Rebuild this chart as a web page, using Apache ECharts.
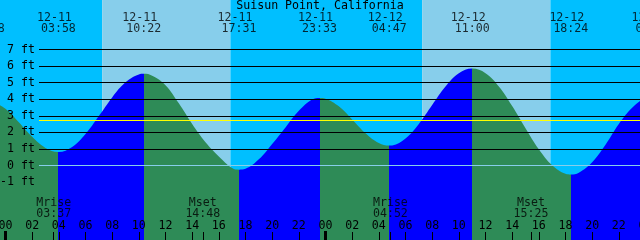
<!DOCTYPE html>
<html><head><meta charset="utf-8">
<script src="https://cdn.jsdelivr.net/npm/echarts@6/dist/echarts.min.js"></script>
<style>html,body{margin:0;padding:0;background:#fff}#c{width:640px;height:240px}</style>
</head><body><div id="c"></div>
<script>
// ---------- data ----------
const chartTitle = 'Suisun Point, California';
// high / low tide events
const extDates = ['12-10','12-11','12-11','12-11','12-11','12-12','12-12','12-12','12-13'];
const extTimes = ['22:38','03:58','10:22','17:31','23:33','04:47','11:00','18:24','00:34'];
const extFeet  = [3.9, 0.82, 5.53, -0.25, 4.08, 1.2, 5.85, -0.54, 4.2];
// tide height samples (hours from 12-11 00:00, feet)
const sampleHours = [-2,-1,0,1,2,3,5,6,7,8,9,10,11,12,13,14,15,16,17,18,19,20,21,22,23,24,25,26,27,28,29,30,31,32,33,34,36,37,38,39,40,41,42,43,44,45,46,47,48,49];
const sampleFeet  = [3.85,3.85,3.42,2.61,1.73,1.06,1.12,1.90,2.98,4.11,5.02,5.49,5.42,4.85,3.75,2.5,1.4,0.55,-0.15,-0.2,0.37,1.30,2.30,3.30,3.98,4.03,3.57,2.78,1.95,1.36,1.21,1.63,2.51,3.65,4.76,5.56,5.57,4.77,3.59,2.25,0.98,0.01,-0.50,-0.43,0.20,1.25,2.50,3.48,4.10,4.18];
// moon events
const moonNames = ['Mrise','Mset','Mrise','Mset'];
const moonDates = ['12-11','12-11','12-12','12-12'];
const moonTimes = ['03:37','14:48','04:52','15:25'];
// sun
const sunriseDates = ['12-11','12-12'];
const sunriseTimes = ['07:15','07:15'];
const sunsetDates  = ['12-11','12-12'];
const sunsetTimes  = ['16:52','16:52'];
// y tick labels and mark level
const yTickFeet = [-1,0,1,2,3,4,5,6,7];
const gridFeet = [1,2,3,4,5,6,7];
const markLevel = 2.72;

// ---------- layout ----------
const FT_PX = 116/7, ZERO_Y = 165.5, HR_PX = 40/3, ZERO_X = 5.5;
const yMin = -5, yMax = 10, xMin = -2, xMax = 48;
const W = 640, H = 240;
const FONT = 'DejaVu Sans Mono';
const FS = 11.6;
const yv = px => (ZERO_Y - px) / FT_PX;
const xv = px => (px - ZERO_X) / HR_PX;
const hourOf = (d, t) => (parseInt(d.split('-')[1], 10) - 11) * 24 + parseInt(t.slice(0,2),10) + parseInt(t.slice(3),10)/60;
const pad2 = n => (n < 10 ? '0' : '') + n;

const extHours = extDates.map((d,i) => hourOf(d, extTimes[i]));
const moonHours = moonDates.map((d,i) => hourOf(d, moonTimes[i]));
const riseH = sunriseDates.map((d,i) => hourOf(d, sunriseTimes[i]));
const setH = sunsetDates.map((d,i) => hourOf(d, sunsetTimes[i]));

const tidePts = sampleHours.map((h,i) => [h, sampleFeet[i]])
  .concat(extHours.map((h,i) => [h, extFeet[i]]))
  .sort((a,b) => a[0]-b[0]);

const NIGHT = '#00BFFF', DAY = '#87CEEB', RISE = '#0000FF', FALL = '#2E8B57';
const bands = [];
const edges = [xMin - 5];
for (let i = 0; i < riseH.length; i++) { edges.push(riseH[i]); edges.push(setH[i]); }
edges.push(xMax + 5);
for (let i = 0; i < edges.length - 1; i++) {
  bands.push([{xAxis: edges[i], itemStyle: {color: i % 2 === 0 ? NIGHT : DAY, opacity: 1}}, {xAxis: edges[i+1]}]);
}

// rising / falling pieces between successive extremes
const bnd = [-100].concat(extHours).concat([100]);
const pieces = [];
for (let i = 0; i < bnd.length - 1; i++) {
  let rising;
  if (i === 0) rising = extFeet[0] > extFeet[1];
  else if (i === bnd.length - 2) rising = extFeet[extFeet.length-1] < extFeet[extFeet.length-2];
  else rising = extFeet[i] > extFeet[i-1];
  pieces.push({min: bnd[i], max: bnd[i+1], color: rising ? RISE : FALL});
}

const blackLines = gridFeet.map(v => [{coord: [xv(39), v]}, {coord: [xMax, v]}]);
const topLines = [
  [{coord: [xv(39), 0], lineStyle: {color: '#87CEEB'}}, {coord: [xMax, 0]}],
  [{coord: [xv(39), markLevel], lineStyle: {color: '#FFFF00'}}, {coord: [xMax, markLevel]}]
];
const dayTicks = [0, 24, 48].map(h => [{coord: [h, yv(231)], lineStyle: {width: 3}}, {coord: [h, yv(240)]}]);
const moonTicks = moonHours.map(h => [{coord: [h, yv(232)], lineStyle: {width: 1}}, {coord: [h, yv(240)]}]);

const textRow = (hours, texts, py, dx) => ({
  type: 'scatter', z: 6, clip: false, silent: true, symbolSize: 0,
  data: hours.map(h => [h, yv(py)]),
  label: {show: true, position: 'inside', offset: [dx, 0], color: '#000', fontFamily: FONT, fontSize: FS,
    formatter: p => texts[p.dataIndex]}
});

const chart = echarts.init(document.getElementById('c'), null, {renderer: 'canvas'});
chart.setOption({
  animation: false,
  backgroundColor: '#fff',
  title: {text: chartTitle, left: 'center', top: 0, padding: 0,
    textStyle: {fontFamily: FONT, fontSize: FS, fontWeight: 'normal', color: '#000'}},
  grid: {left: ZERO_X + xMin*HR_PX, right: W - (ZERO_X + xMax*HR_PX),
    top: ZERO_Y - yMax*FT_PX, bottom: H - (ZERO_Y - yMin*FT_PX), containLabel: false, outerBoundsMode: 'none'},
  xAxis: {type: 'value', min: xMin, max: xMax, interval: 2, offset: H - (ZERO_Y - yMin*FT_PX), z: 10,
    axisLine: {show: false, onZero: false}, splitLine: {show: false},
    axisTick: {show: true, inside: true, length: 8, lineStyle: {color: '#000', width: 1}},
    axisLabel: {show: true, inside: true, margin: 14, verticalAlign: 'middle', showMinLabel: true, showMaxLabel: true,
      color: '#000', fontFamily: FONT, fontSize: FS,
      formatter: v => pad2(((v % 24) + 24) % 24)}},
  yAxis: {type: 'value', min: yMin, max: yMax, interval: 1, z: 10,
    axisLine: {show: false, onZero: false}, axisTick: {show: false}, splitLine: {show: false},
    axisLabel: {show: true, inside: true, align: 'right', verticalAlign: 'middle',
      margin: 35 - (ZERO_X + xMin*HR_PX), color: '#000', fontFamily: FONT, fontSize: FS,
      formatter: v => yTickFeet.indexOf(v) >= 0 ? v + ' ft' : ''}},
  visualMap: {type: 'piecewise', show: false, dimension: 0, seriesIndex: 2, pieces: pieces},
  series: [
    {type: 'line', z: 1, silent: true, data: [[xMin, yMin]], symbol: 'none', lineStyle: {opacity: 0},
      markArea: {silent: true, data: bands}},
    {type: 'line', z: 2, silent: true, data: [], symbol: 'none',
      markLine: {silent: true, symbol: ['none','none'], label: {show: false},
        lineStyle: {color: '#000', width: 1, type: 'solid'}, data: blackLines}},
    {type: 'line', z: 3, silent: true, data: tidePts, smooth: 0.4, symbol: 'none',
      lineStyle: {width: 0}, areaStyle: {opacity: 1, origin: 'start'}},
    {type: 'line', z: 4, silent: true, data: [], symbol: 'none',
      markLine: {silent: true, symbol: ['none','none'], label: {show: false},
        lineStyle: {color: '#000', width: 1, type: 'solid'}, data: topLines.concat(dayTicks).concat(moonTicks)}},
    textRow(extHours, extDates, 17.5, -4),
    textRow(extHours, extTimes, 29, 0),
    textRow(moonHours, moonNames, 202.5, 0),
    textRow(moonHours, moonTimes, 213.5, 0)
  ]
});
</script></body></html>
